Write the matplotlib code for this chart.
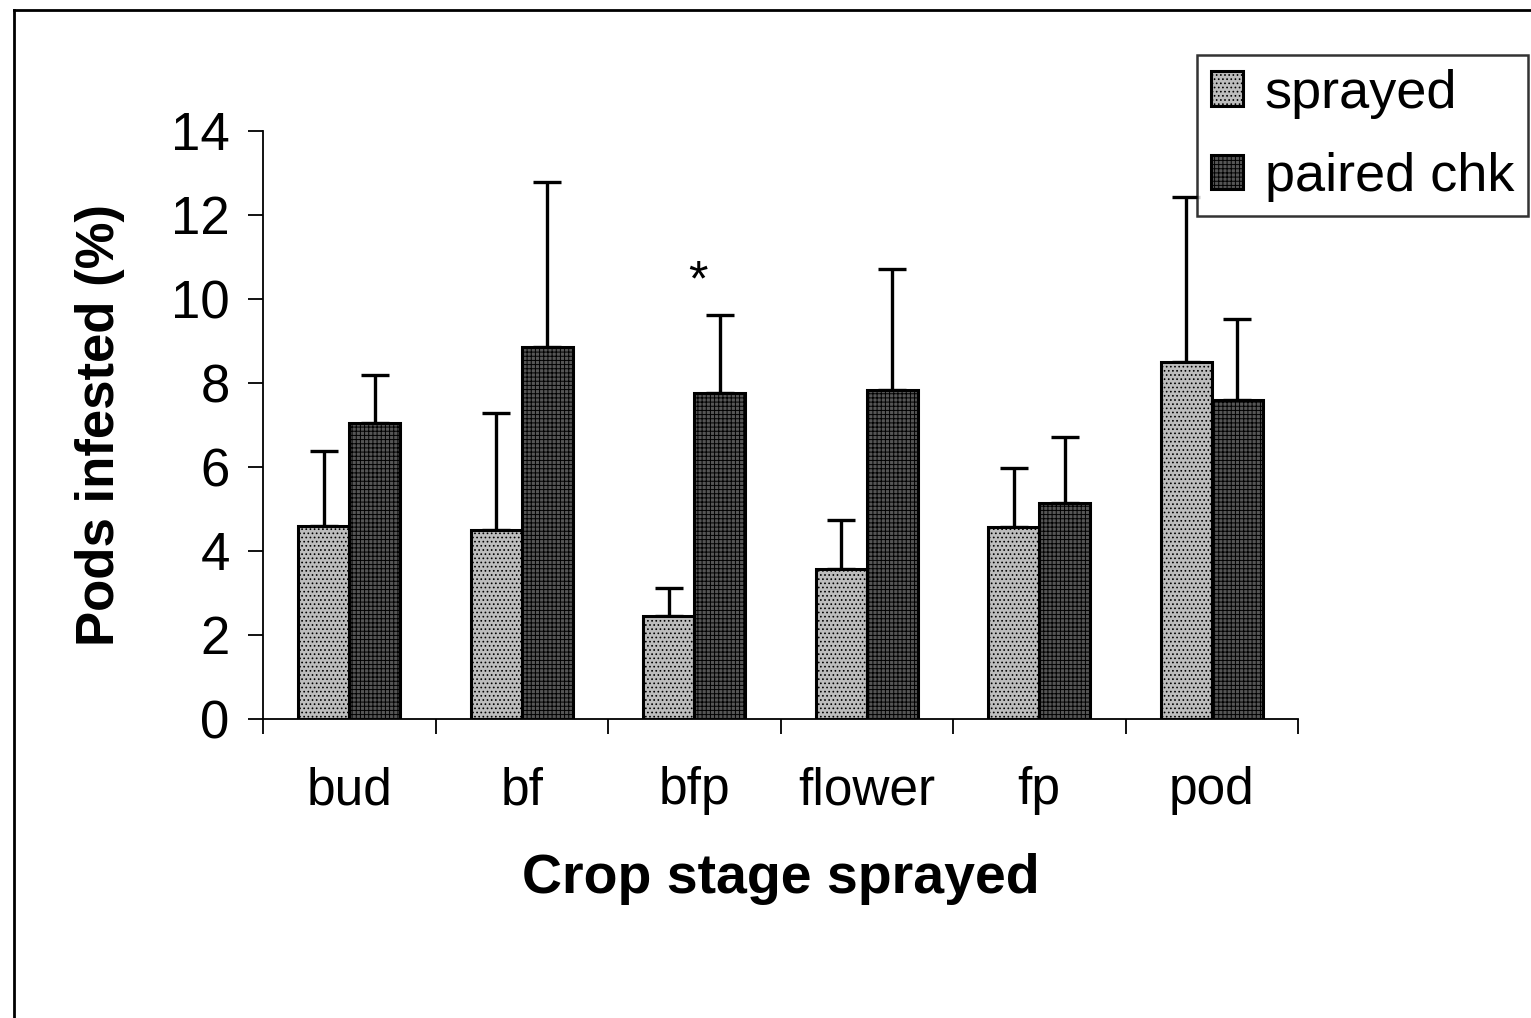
import numpy as np
import matplotlib
matplotlib.use('Agg')
import matplotlib.pyplot as plt
from matplotlib.lines import Line2D

# data
stages = ['bud', 'bf', 'bfp', 'flower', 'fp', 'pod']
sprayed = [4.6, 4.5, 2.45, 3.57, 4.57, 8.5]
sprayed_err = [1.78, 2.78, 0.66, 1.17, 1.4, 3.93]
chk = [7.05, 8.85, 7.76, 7.83, 5.14, 7.6]
chk_err = [1.14, 3.94, 1.86, 2.88, 1.57, 1.92]

plt.rcParams['font.family'] = ['Liberation Sans', 'DejaVu Sans']
plt.rcParams['hatch.linewidth'] = 0.7

fig = plt.figure(figsize=(15.31, 10.18), dpi=100)
ax = fig.add_axes([263 / 1531, 1 - 719 / 1018, 1035 / 1531, 588 / 1018])

x = np.arange(len(stages)) + 0.5
w = 0.296

ax.bar(x - w / 2, sprayed, w, color='#bdbdbd', edgecolor='black', linewidth=2.2,
       hatch='....', label='sprayed', zorder=2)
ax.bar(x + w / 2, chk, w, color='#555555', edgecolor='black', linewidth=2.2,
       hatch='++++', label='paired chk', zorder=2)

# upper error bars only
ax.errorbar(x - w / 2, sprayed, yerr=[np.zeros(len(stages)), sprayed_err], fmt='none',
            ecolor='black', elinewidth=2.4, capsize=10, capthick=2.4, zorder=1)
ax.errorbar(x + w / 2, chk, yerr=[np.zeros(len(stages)), chk_err], fmt='none',
            ecolor='black', elinewidth=2.4, capsize=10, capthick=2.4, zorder=1)

# significance marker
ax.text(x[2] + 0.02, 10.4, '*', ha='center', va='center', fontsize=36)

ax.set_xlim(0, len(stages))
ax.set_ylim(0, 14)
ax.set_yticks(range(0, 15, 2))
ax.set_xticks(range(len(stages) + 1))
ax.set_xticklabels([])
ax.set_xticks(x, minor=True)
ax.set_xticklabels(stages, minor=True)
ax.tick_params(axis='x', which='major', length=11, width=1.3, direction='out')
ax.tick_params(axis='x', which='minor', length=0, pad=34, labelsize=37)
ax.tick_params(axis='y', length=11, width=1.3, direction='out', pad=13, labelsize=38)

for s in ['top', 'right']:
    ax.spines[s].set_visible(False)
for s in ['left', 'bottom']:
    ax.spines[s].set_linewidth(1.3)

ax.set_xlabel('Crop stage sprayed', fontsize=40, fontweight='bold')
ax.xaxis.set_label_coords(0.5, -0.228)
fig.text(100 / 1531, 0.5 * (1 - 131 / 1018 + 1 - 719 / 1018), 'Pods infested (%)',
         rotation=90, ha='center', va='center', fontsize=38, fontweight='bold')

leg = fig.legend(loc='upper left', bbox_to_anchor=(1197 / 1531, 1 - 55 / 1018),
                 fontsize=39, frameon=True, fancybox=False, edgecolor='black',
                 handlelength=0.6, handleheight=0.6, handletextpad=0.4,
                 borderpad=0.25, labelspacing=0.62, borderaxespad=0)
leg.get_frame().set_linewidth(1.8)

# outer frame of the figure (top and left edges only are visible)
fig.add_artist(Line2D([14 / 1531, 1], [1 - 10 / 1018, 1 - 10 / 1018], color='black',
                      linewidth=2, transform=fig.transFigure))
fig.add_artist(Line2D([14 / 1531, 14 / 1531], [0, 1 - 10 / 1018], color='black',
                      linewidth=2, transform=fig.transFigure))

fig.savefig('out.png', dpi=100)
